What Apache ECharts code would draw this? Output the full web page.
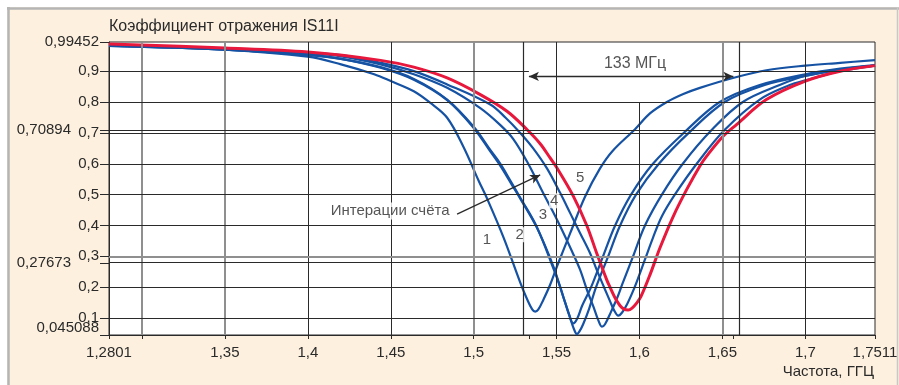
<!DOCTYPE html>
<html><head><meta charset="utf-8">
<script src="https://cdn.jsdelivr.net/npm/echarts@6/dist/echarts.min.js"></script>
<style>html,body{margin:0;padding:0;background:#fff}#c{width:899px;height:385px}</style>
</head><body><div id="c"></div>
<script>
// ---------- axis ticks / labels ----------
const xTickValues = [1.2801, 1.35, 1.40, 1.45, 1.50, 1.55, 1.60, 1.65, 1.70, 1.742];
const xTickLabels = ['1,2801', '1,35', '1,4', '1,45', '1,5', '1,55', '1,6', '1,65', '1,7', '1,7511'];
const xTickMarks = [1.2801, 1.30, 1.35, 1.40, 1.45, 1.50, 1.5333, 1.55, 1.60, 1.65, 1.6566, 1.70, 1.742];
const yTickValues = [0.1, 0.2, 0.3, 0.4, 0.5, 0.6, 0.7, 0.8, 0.9, 0.99452];
const yTickLabels = ['0,1', '0,2', '0,3', '0,4', '0,5', '0,6', '0,7', '0,8', '0,9', '0,99452'];
const yMinLabel = '0,045088';
const refLevels = [0.70894, 0.27673];
const refLabels = ['0,70894', '0,27673'];
const vGrid = [1.30, 1.35, 1.40, 1.45, 1.50, 1.55, 1.60, 1.65, 1.70];
const hGrid = [0.1, 0.2, 0.3, 0.4, 0.5, 0.6, 0.7, 0.8, 0.9];
const grayV = [1.30, 1.35, 1.50, 1.65];
const grayH = [0.3];
const bandEdges = [1.5333, 1.6566];
const bandText = '133 МГц';
const bandArrowY = 0.883;
const bandTextPos = [1.5973, 0.926];

// ---------- curves (frequency, GHz / |S11|) ----------
const freq1 = [1.2801, 1.35, 1.40, 1.42, 1.44, 1.45, 1.4639, 1.4739, 1.484, 1.4938, 1.503, 1.5081, 1.5181, 1.5281, 1.5323, 1.5353, 1.5371, 1.5389, 1.5419, 1.5461, 1.5502, 1.5582, 1.5672, 1.5762, 1.5835, 1.5973, 1.6063, 1.6165, 1.6264, 1.6364, 1.6563, 1.6765, 1.70, 1.721, 1.742];
const s11_1 = [0.983, 0.970, 0.947, 0.922, 0.890, 0.868, 0.835, 0.797, 0.749, 0.655, 0.545, 0.487, 0.360, 0.215, 0.160, 0.128, 0.121, 0.127, 0.158, 0.208, 0.267, 0.375, 0.494, 0.585, 0.640, 0.712, 0.763, 0.800, 0.826, 0.846, 0.878, 0.903, 0.918, 0.927, 0.936];

const freq2 = [1.2801, 1.35, 1.40, 1.42, 1.4439, 1.4639, 1.484, 1.50, 1.51, 1.5161, 1.5227, 1.5281, 1.5381, 1.5481, 1.5542, 1.557, 1.5594, 1.5612, 1.5622, 1.5636, 1.566, 1.5696, 1.5738, 1.5811, 1.5883, 1.5979, 1.6117, 1.6297, 1.6514, 1.6755, 1.70, 1.721, 1.742];
const s11_2 = [0.982, 0.970, 0.953, 0.940, 0.911, 0.872, 0.806, 0.716, 0.640, 0.593, 0.535, 0.487, 0.393, 0.267, 0.165, 0.120, 0.080, 0.055, 0.048, 0.055, 0.080, 0.130, 0.200, 0.300, 0.400, 0.500, 0.600, 0.700, 0.800, 0.855, 0.885, 0.905, 0.918];

const freq3 = [1.2801, 1.35, 1.40, 1.42, 1.4439, 1.4639, 1.484, 1.50, 1.51, 1.5161, 1.5227, 1.5281, 1.5381, 1.5481, 1.5522, 1.5552, 1.5576, 1.56, 1.5624, 1.5654, 1.5708, 1.578, 1.5853, 1.5949, 1.6081, 1.6267, 1.6484, 1.6725, 1.70, 1.721, 1.742];
const s11_3 = [0.982, 0.970, 0.953, 0.940, 0.913, 0.875, 0.808, 0.720, 0.645, 0.600, 0.540, 0.490, 0.395, 0.260, 0.200, 0.150, 0.110, 0.083, 0.098, 0.140, 0.200, 0.300, 0.400, 0.500, 0.600, 0.700, 0.800, 0.855, 0.890, 0.908, 0.920];

const freq4 = [1.2801, 1.35, 1.40, 1.42, 1.4439, 1.4639, 1.484, 1.504, 1.5161, 1.5239, 1.5329, 1.5419, 1.5492, 1.5542, 1.5594, 1.5642, 1.5684, 1.5722, 1.575, 1.5773, 1.5792, 1.5828, 1.5865, 1.5895, 1.5961, 1.6033, 1.6135, 1.6261, 1.6436, 1.6623, 1.6845, 1.70, 1.721, 1.742];
const s11_4 = [0.985, 0.973, 0.958, 0.948, 0.922, 0.890, 0.846, 0.780, 0.725, 0.680, 0.600, 0.505, 0.430, 0.375, 0.315, 0.256, 0.190, 0.137, 0.095, 0.072, 0.080, 0.120, 0.165, 0.208, 0.300, 0.400, 0.500, 0.600, 0.710, 0.800, 0.855, 0.885, 0.905, 0.918];

const freq5 = [1.2801, 1.35, 1.40, 1.42, 1.4439, 1.4639, 1.484, 1.51, 1.5191, 1.5281, 1.5359, 1.5442, 1.5522, 1.5582, 1.5642, 1.5702, 1.5742, 1.5786, 1.5822, 1.5847, 1.5872, 1.5895, 1.5925, 1.5955, 1.5985, 1.6033, 1.6081, 1.6135, 1.6213, 1.6345, 1.6514, 1.6725, 1.6906, 1.70, 1.721, 1.742];
const s11_5 = [0.986, 0.973, 0.960, 0.952, 0.927, 0.900, 0.857, 0.792, 0.750, 0.700, 0.650, 0.585, 0.505, 0.440, 0.375, 0.310, 0.256, 0.200, 0.155, 0.125, 0.108, 0.118, 0.145, 0.180, 0.220, 0.290, 0.360, 0.430, 0.500, 0.600, 0.710, 0.808, 0.855, 0.870, 0.900, 0.918];

const freqF = [1.2801, 1.35, 1.40, 1.4439, 1.4639, 1.484, 1.504, 1.5201, 1.5321, 1.5401, 1.5461, 1.5498, 1.56, 1.5682, 1.5742, 1.5803, 1.5822, 1.5853, 1.5883, 1.5907, 1.5931, 1.5955, 1.5985, 1.6009, 1.6063, 1.6123, 1.6203, 1.6284, 1.6364, 1.6404, 1.6504, 1.6585, 1.6765, 1.70, 1.721, 1.742];
const s11_F = [0.988, 0.975, 0.962, 0.935, 0.913, 0.878, 0.824, 0.770, 0.711, 0.665, 0.619, 0.590, 0.496, 0.400, 0.310, 0.223, 0.200, 0.165, 0.140, 0.129, 0.126, 0.132, 0.150, 0.170, 0.240, 0.327, 0.429, 0.516, 0.593, 0.624, 0.689, 0.727, 0.808, 0.868, 0.900, 0.918];

// ---------- annotations ----------
const iterLabels = ['1', '2', '3', '4', '5'];
const iterLabelX = [1.508, 1.5277, 1.5418, 1.5486, 1.5642];
const iterLabelY = [0.354, 0.370, 0.435, 0.480, 0.554];
const noteText = 'Интерации счёта';
const notePos = [1.4496, 0.447];
const noteArrowFrom = [1.49, 0.437];
const noteArrowTo = [1.5401, 0.5637];

const X_MIN = 1.2801, X_MAX = 1.742, Y_MIN = 0.045088, Y_MAX = 0.99452;
const FONT = '"Liberation Sans", Arial, sans-serif';
const BLUE = '#1552a3', RED = '#e8173c', DARK = '#2a2a2a', GRAY = '#8f8f8f';

function zip(a, b) { return a.map((x, i) => [x, b[i]]); }
function lookup(vals, labels, v) {
  const i = vals.findIndex(t => Math.abs(t - v) < 1e-6);
  return i >= 0 ? labels[i] : '';
}
function solid(color, width) { return { color, width, type: 'solid' }; }

// grid lines as mark lines
const gridLines = [];
vGrid.forEach(x => {
  const ls = grayV.includes(x) ? solid(GRAY, 2) : solid(DARK, 1);
  if (x === 1.60) {
    gridLines.push([{ coord: [x, Y_MIN], lineStyle: ls }, { coord: [x, 0.8], lineStyle: ls }]);
  } else {
    gridLines.push({ xAxis: x, lineStyle: ls });
  }
});
hGrid.forEach(y => {
  const ls = grayH.includes(y) ? solid(GRAY, 2) : solid(DARK, 1);
  if (y === 0.9) {
    gridLines.push([{ coord: [X_MIN, y], lineStyle: ls }, { coord: [bandEdges[0], y], lineStyle: ls }]);
    gridLines.push([{ coord: [bandEdges[1], y], lineStyle: ls }, { coord: [X_MAX, y], lineStyle: ls }]);
  } else {
    gridLines.push({ yAxis: y, lineStyle: ls });
  }
});
bandEdges.forEach(x => gridLines.push({ xAxis: x, lineStyle: solid(DARK, 1.2) }));
refLevels.forEach((y, i) => gridLines.push({
  yAxis: y, lineStyle: solid(DARK, 1),
  label: { show: true, position: 'start', distance: 38, formatter: refLabels[i],
    fontSize: 15, fontFamily: FONT, color: DARK }
}));

function curve(name, f, s, color, width, z) {
  return {
    name, type: 'line', data: zip(f, s), showSymbol: false, symbol: 'none',
    smooth: 0.35, silent: true, z,
    lineStyle: { color, width }, animation: false
  };
}

const labelBase = { margin: 10, fontSize: 15, fontFamily: FONT, color: DARK, hideOverlap: false };

const chart = echarts.init(document.getElementById('c'), null, { renderer: 'canvas' });
chart.setOption({
  animation: false,
  backgroundColor: '#fdf0df',
  title: {
    text: 'Коэффициент отражения IS11I', left: 104, top: 14,
    textStyle: { fontSize: 16, fontWeight: 'normal', color: DARK, fontFamily: FONT }
  },
  graphic: [
    { type: 'rect', shape: { x: 0, y: 0, width: 899, height: 7 }, style: { fill: '#fff' }, silent: true },
    { type: 'rect', shape: { x: 0, y: 0, width: 7, height: 385 }, style: { fill: '#fff' }, silent: true },
    { type: 'line', shape: { x1: 7, y1: 8.5, x2: 899, y2: 8.5 }, style: { stroke: '#b5b5b5', lineWidth: 2.5 }, silent: true },
    { type: 'line', shape: { x1: 8.5, y1: 7, x2: 8.5, y2: 385 }, style: { stroke: '#b5b5b5', lineWidth: 2.5 }, silent: true },
    { type: 'line', shape: { x1: 897.5, y1: 7, x2: 897.5, y2: 385 }, style: { stroke: '#c8c8c8', lineWidth: 1.5 }, silent: true },
    { type: 'text', right: 25, top: 364, silent: true,
      style: { text: 'Частота, ГГЦ', font: '15px ' + FONT, fill: DARK } }
  ],
  grid: {
    left: 109, right: 24, top: 42, bottom: 50, show: true,
    backgroundColor: '#ffffff', borderColor: DARK, borderWidth: 1, outerBoundsMode: 'none'
  },
  xAxis: {
    type: 'value', min: X_MIN, max: X_MAX,
    axisLine: { show: true, lineStyle: { color: DARK, width: 1 } },
    axisTick: { show: true, customValues: xTickMarks, length: 4, lineStyle: { color: DARK } },
    axisLabel: Object.assign({}, labelBase, {
      customValues: xTickValues, showMinLabel: true, showMaxLabel: true,
      formatter: v => lookup(xTickValues, xTickLabels, v)
    }),
    splitLine: { show: false }
  },
  yAxis: [
    {
      type: 'value', min: Y_MIN, max: Y_MAX,
      axisLine: { show: true, lineStyle: { color: DARK, width: 1 } },
      axisTick: { show: true, customValues: [Y_MIN].concat(yTickValues, refLevels), length: 9, lineStyle: { color: DARK } },
      axisLabel: Object.assign({}, labelBase, {
        customValues: yTickValues, showMinLabel: true, showMaxLabel: true,
        formatter: v => lookup(yTickValues, yTickLabels, v)
      }),
      splitLine: { show: false }
    },
    {
      type: 'value', min: Y_MIN, max: Y_MAX, position: 'left', offset: 0,
      axisLine: { show: false }, axisTick: { show: false }, splitLine: { show: false },
      axisLabel: Object.assign({}, labelBase, {
        customValues: [Y_MIN], showMinLabel: true, verticalAlign: 'bottom',
        formatter: () => yMinLabel
      })
    }
  ],
  series: [
    {
      type: 'line', data: [], silent: true, z: 1, animation: false,
      markLine: { silent: true, symbol: ['none', 'none'], label: { show: false }, animation: false,
        lineStyle: { type: 'solid' }, data: gridLines }
    },
    curve('Итерация 1', freq1, s11_1, BLUE, 2.2, 3),
    curve('Итерация 2', freq2, s11_2, BLUE, 2.2, 3),
    curve('Итерация 3', freq3, s11_3, BLUE, 2.2, 3),
    curve('Итерация 4', freq4, s11_4, BLUE, 2.2, 3),
    curve('Итерация 5', freq5, s11_5, BLUE, 2.2, 3),
    curve('Итог', freqF, s11_F, RED, 3, 4),
    {
      type: 'scatter', silent: true, z: 6, animation: false, symbolSize: 1,
      itemStyle: { color: 'rgba(0,0,0,0)' },
      label: { show: true, position: 'inside', formatter: '{b}', fontSize: 15, fontFamily: FONT, color: DARK },
      data: iterLabels.map((t, i) => ({
        name: t, value: [iterLabelX[i], iterLabelY[i]],
        label: { backgroundColor: '#fff', padding: [0, 1] }
      })).concat([
        { name: noteText, value: notePos, label: { backgroundColor: '#fff', padding: [1, 2] } },
        { name: bandText, value: bandTextPos, label: { fontSize: 16 } }
      ]),
      markLine: {
        silent: true, animation: false, label: { show: false },
        lineStyle: { color: DARK, width: 1.3, type: 'solid' },
        data: [
          [{ coord: [bandEdges[0], bandArrowY], symbol: 'arrow', symbolSize: [7, 10] },
           { coord: [bandEdges[1], bandArrowY], symbol: 'arrow', symbolSize: [7, 10] }],
          [{ coord: noteArrowFrom, symbol: 'none' },
           { coord: noteArrowTo, symbol: 'arrow', symbolSize: [7, 10] }]
        ]
      }
    }
  ]
});
</script></body></html>
